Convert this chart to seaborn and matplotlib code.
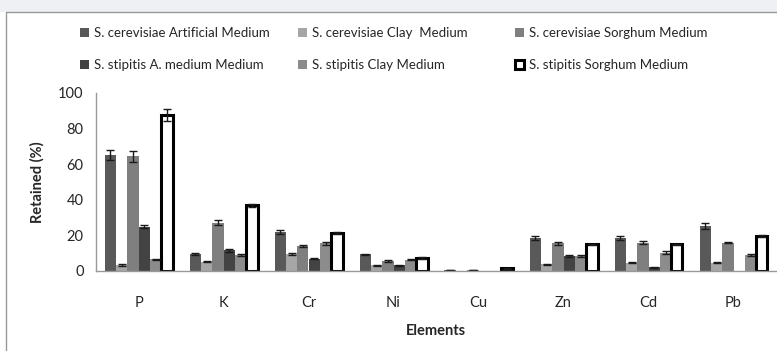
import pandas as pd
import matplotlib
matplotlib.use('Agg')
import matplotlib.pyplot as plt
import seaborn as sns
from matplotlib.lines import Line2D
from matplotlib.patches import Rectangle

# 元素与系列
elements = ['P', 'K', 'Cr', 'Ni', 'Cu', 'Zn', 'Cd', 'Pb']
series = ['S. cerevisiae Artificial Medium', 'S. cerevisiae Clay  Medium',
          'S. cerevisiae Sorghum Medium', 'S. stipitis A. medium Medium',
          'S. stipitis Clay Medium', 'S. stipitis Sorghum Medium']

# 保留率 (%)，按系列
sc_artificial = [65.2, 9.4, 22.0, 9.5, 0.4, 18.4, 18.4, 25.3]
sc_clay = [3.5, 5.2, 9.4, 3.2, 0.0, 3.8, 4.7, 4.7]
sc_sorghum = [64.5, 27.2, 14.2, 5.6, 0.4, 15.5, 16.0, 16.0]
ss_artificial = [25.0, 11.6, 6.9, 3.2, 0.0, 8.4, 2.0, 0.0]
ss_clay = [6.7, 9.0, 15.5, 6.2, 0.0, 8.4, 10.3, 9.0]
ss_sorghum = [87.5, 37.0, 21.5, 7.5, 1.5, 15.0, 15.0, 19.7]

# 误差 (±)
err_sc_artificial = [3.0, 0.5, 1.2, 0.3, 0.1, 1.0, 1.0, 1.5]
err_sc_clay = [0.5, 0.3, 0.5, 0.3, 0.0, 0.3, 0.3, 0.3]
err_sc_sorghum = [3.0, 1.5, 0.6, 0.3, 0.1, 1.0, 0.8, 0.5]
err_ss_artificial = [1.0, 0.8, 0.3, 0.3, 0.0, 0.5, 0.3, 0.0]
err_ss_clay = [0.3, 0.3, 1.0, 0.3, 0.0, 0.5, 0.8, 0.5]
err_ss_sorghum = [3.5, 0.8, 0.6, 0.5, 0.2, 0.3, 0.3, 0.5]

values = [sc_artificial, sc_clay, sc_sorghum, ss_artificial, ss_clay, ss_sorghum]
errors = [err_sc_artificial, err_sc_clay, err_sc_sorghum,
          err_ss_artificial, err_ss_clay, err_ss_sorghum]
colors = ['#595959', '#a6a6a6', '#7f7f7f', '#434343', '#8c8c8c', '#ffffff']

rows = []
for s, vals in zip(series, values):
    for e, v in zip(elements, vals):
        rows.append({'Element': e, 'Series': s, 'Retained': v})
df = pd.DataFrame(rows)

sns.set_style('white')
plt.rcParams['font.family'] = ['Lato', 'DejaVu Sans']

fig = plt.figure(figsize=(7.77, 3.51), dpi=100)
ax = fig.add_axes([96 / 777, 1 - 271 / 351, 680 / 777, 178 / 351])

sns.barplot(data=df, x='Element', y='Retained', hue='Series', order=elements,
            hue_order=series, palette=colors, width=0.8, errorbar=None,
            saturation=1, legend=False, ax=ax)

# 最后一个系列：白色填充 + 粗黑边
for p in ax.containers[5]:
    p.set_facecolor('white')
    p.set_edgecolor('black')
    p.set_linewidth(2.2)
for i in range(5):
    for p in ax.containers[i]:
        p.set_edgecolor('none')

# 误差线
for cont, errs in zip(ax.containers, errors):
    for p, e in zip(cont, errs):
        if e <= 0:
            continue
        ax.errorbar(p.get_x() + p.get_width() / 2, p.get_height(), yerr=e,
                    fmt='none', ecolor='#1a1a1a', elinewidth=1, capsize=3, capthick=1)

ax.set_ylim(0, 100)
ax.set_xlim(-0.5, 7.5)
ax.set_yticks([0, 20, 40, 60, 80, 100])
ax.set_xticks(range(len(elements)))
ax.set_xticks([i - 0.5 for i in range(len(elements) + 1)], minor=True)
ax.tick_params(axis='x', which='major', length=0, pad=18, labelsize=10.5)
ax.tick_params(axis='x', which='minor', length=5, color='#999999', direction='out')
ax.tick_params(axis='y', length=5, color='#999999', direction='out', labelsize=10.5, pad=4)
for side in ['top', 'right']:
    ax.spines[side].set_visible(False)
for side in ['left', 'bottom']:
    ax.spines[side].set_color('#999999')
    ax.spines[side].set_linewidth(1)
ax.set_xlabel('Elements', fontsize=10.5, fontweight='bold', labelpad=10)
ax.set_ylabel('Retained (%)', fontsize=10.5, fontweight='bold', labelpad=10)

# 图例：三列分别放置
legend_x = [80, 298, 515]
for k, x0 in enumerate(legend_x):
    idx = [k, k + 3]
    fig.legend([ax.containers[i] for i in idx], [series[i] for i in idx],
               loc='upper left', bbox_to_anchor=(x0 / 777, 1 - 27 / 351),
               frameon=False, fontsize=9.5, handlelength=0.7, handleheight=0.7,
               handletextpad=0.35, labelspacing=1.5, borderpad=0, borderaxespad=0)

# 顶部灰条与外框
fig.patches.append(Rectangle((0, 1 - 12 / 351), 1, 12 / 351, transform=fig.transFigure,
                             facecolor='#eef0f3', edgecolor='none'))
fig.add_artist(Line2D([6 / 777, 6 / 777], [0, 1 - 12 / 351], color='#999999', lw=1))
fig.add_artist(Line2D([6 / 777, 1], [1 - 12 / 351, 1 - 12 / 351], color='#999999', lw=1))

fig.savefig('out.png', dpi=100)
